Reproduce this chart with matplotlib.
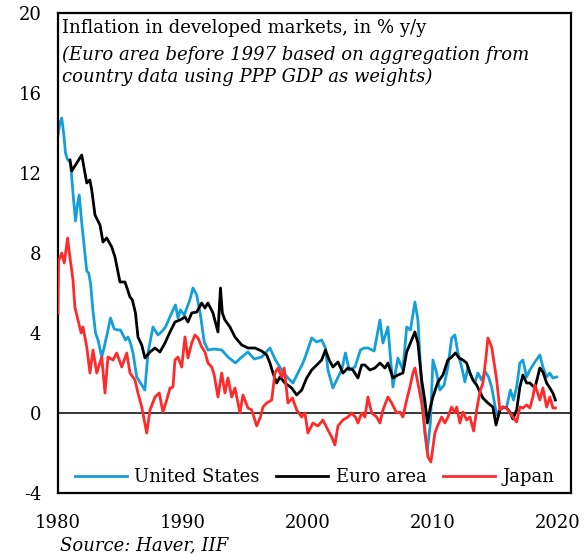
import matplotlib
matplotlib.use("Agg")
import matplotlib.pyplot as plt
from matplotlib.lines import Line2D

# ---------------- data ----------------
us_t = [1980.0, 1980.15, 1980.3, 1980.45, 1980.6, 1980.75, 1981.0, 1981.2, 1981.4, 1981.55,
        1981.7, 1981.9, 1982.1, 1982.3, 1982.45, 1982.6, 1982.8, 1983.0, 1983.2, 1983.5,
        1983.7, 1983.95, 1984.2, 1984.5, 1984.8, 1985.0, 1985.4, 1985.6, 1985.8, 1986.0,
        1986.3, 1986.6, 1986.95, 1987.2, 1987.6, 1988.0, 1988.3, 1988.6, 1989.2, 1989.4,
        1989.6, 1989.8, 1990.1, 1990.55, 1990.8, 1991.1, 1991.4, 1991.7, 1992.0, 1992.5,
        1993.1, 1993.6, 1994.2, 1994.7, 1995.2, 1995.7, 1996.3, 1996.96, 1997.4, 1997.9,
        1998.4, 1998.8, 1999.2, 1999.6, 1999.9, 2000.3, 2000.7, 2001.1, 2001.4, 2001.6,
        2002.0, 2002.3, 2002.7, 2003.0, 2003.3, 2003.76, 2004.2, 2004.5, 2004.8, 2005.3,
        2005.76, 2006.0, 2006.4, 2006.8, 2007.2, 2007.6, 2007.9, 2008.2, 2008.56, 2008.8,
        2009.1, 2009.35, 2009.55, 2009.8, 2010.0, 2010.3, 2010.56, 2010.9, 2011.2, 2011.5,
        2011.76, 2012.0, 2012.3, 2012.56, 2012.8, 2013.1, 2013.35, 2013.6, 2013.9, 2014.2,
        2014.45, 2014.7, 2014.9, 2015.1, 2015.35, 2015.6, 2015.9, 2016.2, 2016.45, 2016.7,
        2016.96, 2017.2, 2017.5, 2017.76, 2018.16, 2018.56, 2018.8, 2019.1, 2019.35, 2019.6,
        2019.9]
us_v = [13.9, 14.5, 14.75, 14.0, 13.0, 12.7, 12.5, 11.0, 9.6, 10.4,
        10.9, 9.5, 8.3, 7.1, 7.0, 6.5, 5.1, 4.0, 3.65, 2.8,
        3.3, 4.0, 4.75, 4.2, 4.15, 4.15, 3.65, 3.8, 3.5, 3.0,
        1.8, 1.5, 1.15, 3.0, 4.3, 3.9, 4.07, 4.3, 5.15, 5.4,
        4.75, 5.15, 4.9, 5.65, 6.25, 5.9, 4.9, 3.55, 3.15, 3.2,
        3.15, 2.8, 2.5, 2.8, 3.05, 2.7, 2.8, 3.25, 2.65, 2.15,
        1.75, 1.5, 2.0, 2.5, 3.0, 3.75, 3.55, 3.65, 3.25, 2.15,
        1.25, 1.65, 2.15, 3.0, 2.15, 2.3, 3.15, 3.25, 3.25, 3.1,
        4.65, 3.5, 4.3, 1.3, 2.75, 2.15, 4.3, 4.15, 5.55, 4.65,
        1.3, -1.0, -1.9, -0.5, 2.65, 2.0, 1.15, 1.4, 2.3, 3.75,
        3.9, 3.0, 2.3, 1.55, 2.3, 1.8, 1.5, 2.0, 1.65, 2.05,
        1.8, 1.3, 0.6, -0.1, 0.15, 0.25, 0.3, 1.15, 0.65, 1.3,
        2.5, 2.65, 1.8, 2.15, 2.55, 2.9, 2.3, 1.8, 2.0, 1.75,
        1.8]

ea_t = [1980.96, 1981.1, 1981.4, 1981.9, 1982.0, 1982.3, 1982.55, 1982.7, 1982.96, 1983.36,
        1983.6, 1983.9, 1984.3, 1984.56, 1984.96, 1985.36, 1985.76, 1985.95, 1986.2, 1986.4,
        1986.7, 1986.96, 1987.36, 1987.76, 1988.16, 1988.56, 1988.96, 1989.36, 1989.76, 1990.16,
        1990.4, 1990.7, 1991.1, 1991.5, 1991.76, 1992.0, 1992.4, 1992.8, 1993.0, 1993.15,
        1993.36, 1993.76, 1994.16, 1994.7, 1995.2, 1995.76, 1996.3, 1996.7, 1996.96, 1997.2,
        1997.5, 1997.76, 1998.16, 1998.7, 1999.1, 1999.5, 1999.9, 2000.3, 2000.7, 2001.1,
        2001.4, 2001.7, 2002.0, 2002.4, 2002.8, 2003.2, 2003.6, 2004.0, 2004.3, 2004.56,
        2004.96, 2005.36, 2005.76, 2006.16, 2006.4, 2006.8, 2007.2, 2007.6, 2007.9, 2008.2,
        2008.56, 2008.8, 2009.1, 2009.35, 2009.56, 2009.8, 2010.0, 2010.4, 2010.8, 2011.2,
        2011.5, 2011.8, 2012.1, 2012.4, 2012.7, 2012.96, 2013.2, 2013.5, 2013.76, 2014.0,
        2014.4, 2014.8, 2015.05, 2015.36, 2015.6, 2015.9, 2016.16, 2016.4, 2016.7, 2016.96,
        2017.2, 2017.5, 2017.76, 2018.16, 2018.56, 2018.8, 2019.1, 2019.36, 2019.6, 2019.8]
ea_v = [12.65, 12.1, 12.4, 12.9, 12.55, 11.5, 11.65, 11.15, 9.9, 9.4,
        8.55, 8.75, 8.3, 7.8, 6.55, 6.55, 5.8, 5.65, 5.0, 3.8,
        3.4, 2.75, 3.05, 3.25, 3.05, 3.5, 4.05, 4.55, 4.65, 4.8,
        4.55, 5.0, 5.05, 5.5, 5.25, 5.5, 5.0, 4.05, 6.25, 5.0,
        4.65, 4.3, 3.8, 3.4, 3.25, 3.25, 3.1, 2.9, 2.5, 2.0,
        1.5, 1.8, 1.5, 1.25, 0.9, 1.15, 1.75, 2.15, 2.4, 2.65,
        3.15, 2.65, 2.3, 2.55, 2.0, 2.25, 2.15, 1.75, 2.4, 2.4,
        2.15, 2.25, 2.5, 2.25, 2.5, 1.75, 1.9, 2.0, 3.05, 3.5,
        4.05, 3.5, 1.65, 0.65, -0.5, 0.3, 0.8, 1.55, 1.9, 2.65,
        2.8, 3.0, 2.75, 2.65, 2.5, 2.0, 1.65, 1.4, 1.05, 0.75,
        0.5, 0.3, -0.6, 0.15, 0.3, 0.25, 0.05, -0.3, 0.15, 1.3,
        1.9, 1.5, 1.5, 1.25, 2.25, 2.05, 1.5, 1.25, 1.0, 0.65]

jp_t = [1980.0, 1980.05, 1980.3, 1980.5, 1980.77, 1980.95, 1981.2, 1981.35, 1981.6, 1981.85,
        1982.0, 1982.3, 1982.56, 1982.8, 1983.1, 1983.5, 1983.76, 1984.0, 1984.4, 1984.7,
        1985.1, 1985.5, 1985.76, 1986.16, 1986.4, 1986.7, 1987.1, 1987.36, 1987.76, 1988.1,
        1988.4, 1988.7, 1988.96, 1989.2, 1989.36, 1989.6, 1989.9, 1990.16, 1990.4, 1990.7,
        1990.96, 1991.2, 1991.5, 1991.76, 1992.0, 1992.3, 1992.5, 1992.8, 1993.1, 1993.36,
        1993.6, 1993.9, 1994.16, 1994.56, 1994.8, 1995.2, 1995.5, 1995.9, 1996.2, 1996.4,
        1996.7, 1997.1, 1997.36, 1997.6, 1997.9, 1998.1, 1998.4, 1998.76, 1999.1, 1999.5,
        1999.76, 2000.0, 2000.4, 2000.8, 2001.2, 2001.6, 2001.9, 2002.16, 2002.4, 2002.8,
        2003.2, 2003.5, 2003.8, 2004.0, 2004.3, 2004.56, 2004.8, 2005.1, 2005.5, 2005.76,
        2006.0, 2006.4, 2006.7, 2007.1, 2007.36, 2007.6, 2007.9, 2008.16, 2008.4, 2008.56,
        2008.8, 2009.1, 2009.36, 2009.6, 2009.84, 2010.16, 2010.4, 2010.7, 2010.96, 2011.2,
        2011.5, 2011.76, 2011.9, 2012.16, 2012.4, 2012.7, 2012.96, 2013.26, 2013.5, 2013.76,
        2014.0, 2014.24, 2014.4, 2014.7, 2014.9, 2015.1, 2015.36, 2015.6, 2015.9, 2016.16,
        2016.4, 2016.7, 2016.96, 2017.2, 2017.5, 2017.76, 2018.0, 2018.16, 2018.3, 2018.56,
        2018.8, 2019.1, 2019.36, 2019.6, 2019.8]
jp_v = [5.0, 7.6, 8.0, 7.5, 8.75, 7.8, 6.65, 5.3, 4.65, 4.0,
        4.3, 3.3, 2.0, 3.15, 2.0, 2.8, 1.0, 2.8, 2.65, 3.0,
        2.3, 3.0, 2.0, 1.65, 1.0, 0.3, -1.0, 0.15, 0.8, 1.0,
        0.05, 0.65, 1.25, 1.3, 2.65, 2.8, 2.3, 3.8, 2.75, 3.5,
        3.9, 3.75, 3.3, 3.05, 2.5, 2.3, 1.9, 0.8, 2.0, 1.0,
        1.75, 0.8, 1.25, 0.0, 0.9, 0.25, 0.15, -0.65, -0.2, 0.3,
        0.5, 0.65, 2.0, 2.25, 1.8, 2.25, 0.5, 0.75, 0.15, -0.2,
        0.0, -1.0, -0.5, -0.65, -0.35, -0.85, -1.2, -1.6, -0.65, -0.35,
        -0.2, 0.0, -0.2, -0.5, 0.0, -0.2, 0.8, 0.0, -0.2, -0.5,
        0.15, 0.8, 0.5, 0.0, 0.05, -0.2, 0.65, 1.3, 2.0, 2.25,
        1.5, 0.5, -0.85, -2.2, -2.45, -1.0, -0.6, -0.2, -0.5, -0.2,
        0.3, 0.0, 0.3, -0.5, 0.05, -0.35, -0.2, -0.9, 0.15, 1.05,
        1.5, 2.75, 3.75, 3.3, 2.5, 1.65, 0.15, 0.3, 0.25, 0.0,
        -0.2, -0.45, 0.3, 0.25, 0.4, 0.25, 0.8, 1.4, 1.15, 0.65,
        1.25, 0.3, 0.8, 0.25, 0.25]

series_names = ["United States", "Euro area", "Japan"]
y_ticks = [-4, 0, 4, 8, 12, 16, 20]
x_ticks = [1980, 1990, 2000, 2010, 2020]

# ---------------- style ----------------
FONT = "DejaVu Serif"
plt.rcParams["font.family"] = [FONT]
BLUE = "#149FD8"
BLACK = "#000000"
RED = "#FF2A2A"
FS = 13

fig = plt.figure(figsize=(5.84, 5.54), dpi=100)
ax = fig.add_axes([58 / 584, 1 - 493 / 554, (571 - 58) / 584, (493 - 13) / 554])

ax.axhline(0, color="black", lw=1.1, zorder=1)
ax.plot(us_t, us_v, color=BLUE, lw=2.0, zorder=2, solid_joinstyle="round")
ax.plot(ea_t, ea_v, color=BLACK, lw=2.0, zorder=3, solid_joinstyle="round")
ax.plot(jp_t, jp_v, color=RED, lw=2.0, zorder=4, solid_joinstyle="round")

ax.set_xlim(1980, 2021.05)
ax.set_ylim(-4, 20)
ax.set_xticks(x_ticks)
ax.set_yticks(y_ticks)
ax.set_xticklabels([str(t) for t in x_ticks])
ax.set_yticklabels([str(t) for t in y_ticks])
ax.tick_params(axis="both", length=0, labelsize=FS)
ax.tick_params(axis="x", pad=15)
ax.tick_params(axis="y", pad=12)
for s in ax.spines.values():
    s.set_linewidth(1.6)

ax.text(0.008, 0.987, "Inflation in developed markets, in % y/y",
        transform=ax.transAxes, ha="left", va="top", fontsize=FS)
ax.text(0.008, 0.932,
        "(Euro area before 1997 based on aggregation from\ncountry data using PPP GDP as weights)",
        transform=ax.transAxes, ha="left", va="top", fontsize=FS, style="italic",
        linespacing=1.3)

handles = [Line2D([], [], color=c, lw=2.0) for c in (BLUE, BLACK, RED)]
ax.legend(handles, series_names, loc="lower center", bbox_to_anchor=(0.5, -0.02),
          ncol=3, frameon=False, fontsize=FS, handlelength=2.9, handletextpad=0.4,
          columnspacing=0.9)

fig.text(60 / 584, 1 - 545 / 554, "Source: Haver, IIF", ha="left", va="center",
         fontsize=FS, style="italic")

fig.savefig("out.png", dpi=100)
